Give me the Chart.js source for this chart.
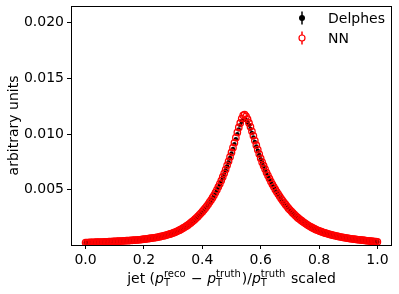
<!DOCTYPE html>
<html>
<head>
<meta charset="utf-8">
<script src="https://cdn.jsdelivr.net/npm/chart.js@4.4.1/dist/chart.umd.min.js"></script>
<style>
  html, body { margin: 0; padding: 0; background: #fff; }
  #wrap { width: 399px; height: 294px; }
</style>
</head>
<body>
<div id="wrap"><canvas id="respChart" width="399" height="294"></canvas></div>
<script>
// bin centres (scaled response)
const binX = [
    0.000, 0.005, 0.010, 0.015, 0.020, 0.025, 0.030, 0.035, 0.040, 0.045, 0.050, 0.055, 0.060, 0.065, 0.070, 0.075, 0.080, 0.085, 0.090, 0.095,
    0.100, 0.105, 0.110, 0.115, 0.120, 0.125, 0.130, 0.135, 0.140, 0.145, 0.150, 0.155, 0.160, 0.165, 0.170, 0.175, 0.180, 0.185, 0.190, 0.195,
    0.200, 0.205, 0.210, 0.215, 0.220, 0.225, 0.230, 0.235, 0.240, 0.245, 0.250, 0.255, 0.260, 0.265, 0.270, 0.275, 0.280, 0.285, 0.290, 0.295,
    0.300, 0.305, 0.310, 0.315, 0.320, 0.325, 0.330, 0.335, 0.340, 0.345, 0.350, 0.355, 0.360, 0.365, 0.370, 0.375, 0.380, 0.385, 0.390, 0.395,
    0.400, 0.405, 0.410, 0.415, 0.420, 0.425, 0.430, 0.435, 0.440, 0.445, 0.450, 0.455, 0.460, 0.465, 0.470, 0.475, 0.480, 0.485, 0.490, 0.495,
    0.500, 0.505, 0.510, 0.515, 0.520, 0.525, 0.530, 0.535, 0.540, 0.545, 0.550, 0.555, 0.560, 0.565, 0.570, 0.575, 0.580, 0.585, 0.590, 0.595,
    0.600, 0.605, 0.610, 0.615, 0.620, 0.625, 0.630, 0.635, 0.640, 0.645, 0.650, 0.655, 0.660, 0.665, 0.670, 0.675, 0.680, 0.685, 0.690, 0.695,
    0.700, 0.705, 0.710, 0.715, 0.720, 0.725, 0.730, 0.735, 0.740, 0.745, 0.750, 0.755, 0.760, 0.765, 0.770, 0.775, 0.780, 0.785, 0.790, 0.795,
    0.800, 0.805, 0.810, 0.815, 0.820, 0.825, 0.830, 0.835, 0.840, 0.845, 0.850, 0.855, 0.860, 0.865, 0.870, 0.875, 0.880, 0.885, 0.890, 0.895,
    0.900, 0.905, 0.910, 0.915, 0.920, 0.925, 0.930, 0.935, 0.940, 0.945, 0.950, 0.955, 0.960, 0.965, 0.970, 0.975, 0.980, 0.985, 0.990, 0.995,
    1.000
];

const delphesVals = [
    0.00025, 0.00025, 0.00026, 0.00026, 0.00027, 0.00027, 0.00028, 0.00028, 0.00029, 0.00029, 0.00030, 0.00030, 0.00031, 0.00031, 0.00032, 0.00033, 0.00034, 0.00034, 0.00035, 0.00035,
    0.00036, 0.00037, 0.00037, 0.00038, 0.00039, 0.00039, 0.00040, 0.00041, 0.00042, 0.00042, 0.00043, 0.00044, 0.00045, 0.00046, 0.00047, 0.00048, 0.00049, 0.00050, 0.00052, 0.00053,
    0.00055, 0.00056, 0.00058, 0.00060, 0.00062, 0.00064, 0.00066, 0.00068, 0.00070, 0.00072, 0.00075, 0.00078, 0.00081, 0.00084, 0.00087, 0.00090, 0.00094, 0.00098, 0.00102, 0.00106,
    0.00111, 0.00116, 0.00122, 0.00128, 0.00134, 0.00141, 0.00148, 0.00155, 0.00163, 0.00171, 0.00180, 0.00190, 0.00200, 0.00211, 0.00222, 0.00234, 0.00246, 0.00259, 0.00272, 0.00286,
    0.00300, 0.00316, 0.00332, 0.00349, 0.00366, 0.00385, 0.00404, 0.00425, 0.00446, 0.00470, 0.00494, 0.00520, 0.00548, 0.00577, 0.00608, 0.00641, 0.00675, 0.00711, 0.00748, 0.00786,
    0.00825, 0.00867, 0.00910, 0.00955, 0.01000, 0.01042, 0.01080, 0.01110, 0.01130, 0.01135, 0.01125, 0.01105, 0.01080, 0.01047, 0.01010, 0.00970, 0.00930, 0.00890, 0.00850, 0.00812,
    0.00775, 0.00742, 0.00710, 0.00680, 0.00650, 0.00622, 0.00595, 0.00570, 0.00545, 0.00522, 0.00500, 0.00479, 0.00458, 0.00438, 0.00418, 0.00400, 0.00382, 0.00365, 0.00349, 0.00333,
    0.00318, 0.00304, 0.00290, 0.00277, 0.00264, 0.00252, 0.00241, 0.00230, 0.00220, 0.00210, 0.00201, 0.00192, 0.00184, 0.00176, 0.00168, 0.00161, 0.00154, 0.00147, 0.00141, 0.00135,
    0.00130, 0.00125, 0.00120, 0.00115, 0.00111, 0.00107, 0.00103, 0.00099, 0.00096, 0.00092, 0.00089, 0.00086, 0.00083, 0.00080, 0.00077, 0.00075, 0.00072, 0.00070, 0.00067, 0.00065,
    0.00063, 0.00061, 0.00059, 0.00057, 0.00055, 0.00054, 0.00052, 0.00050, 0.00049, 0.00047, 0.00046, 0.00044, 0.00043, 0.00041, 0.00040, 0.00038, 0.00037, 0.00036, 0.00034, 0.00033,
    0.00031
];

const nnVals = [
    0.00026, 0.00026, 0.00026, 0.00027, 0.00027, 0.00028, 0.00028, 0.00029, 0.00029, 0.00030, 0.00030, 0.00031, 0.00031, 0.00032, 0.00032, 0.00033, 0.00034, 0.00035, 0.00035, 0.00036,
    0.00037, 0.00037, 0.00038, 0.00039, 0.00039, 0.00040, 0.00041, 0.00042, 0.00043, 0.00043, 0.00044, 0.00045, 0.00046, 0.00047, 0.00048, 0.00049, 0.00050, 0.00051, 0.00053, 0.00054,
    0.00056, 0.00057, 0.00059, 0.00061, 0.00063, 0.00065, 0.00067, 0.00069, 0.00071, 0.00073, 0.00076, 0.00079, 0.00082, 0.00085, 0.00088, 0.00091, 0.00095, 0.00099, 0.00103, 0.00107,
    0.00112, 0.00117, 0.00123, 0.00129, 0.00135, 0.00142, 0.00149, 0.00157, 0.00165, 0.00173, 0.00182, 0.00192, 0.00202, 0.00213, 0.00224, 0.00236, 0.00248, 0.00261, 0.00275, 0.00289,
    0.00303, 0.00319, 0.00335, 0.00352, 0.00370, 0.00389, 0.00408, 0.00429, 0.00450, 0.00475, 0.00500, 0.00526, 0.00553, 0.00583, 0.00615, 0.00648, 0.00682, 0.00719, 0.00756, 0.00795,
    0.00835, 0.00878, 0.00922, 0.00968, 0.01015, 0.01060, 0.01100, 0.01140, 0.01168, 0.01175, 0.01160, 0.01135, 0.01100, 0.01065, 0.01025, 0.00985, 0.00942, 0.00900, 0.00860, 0.00820,
    0.00782, 0.00748, 0.00716, 0.00686, 0.00655, 0.00627, 0.00600, 0.00574, 0.00549, 0.00526, 0.00503, 0.00482, 0.00461, 0.00441, 0.00421, 0.00403, 0.00385, 0.00368, 0.00351, 0.00335,
    0.00320, 0.00306, 0.00292, 0.00279, 0.00266, 0.00254, 0.00243, 0.00232, 0.00222, 0.00212, 0.00203, 0.00194, 0.00185, 0.00177, 0.00169, 0.00162, 0.00155, 0.00148, 0.00142, 0.00136,
    0.00131, 0.00126, 0.00121, 0.00116, 0.00112, 0.00108, 0.00104, 0.00100, 0.00097, 0.00093, 0.00090, 0.00087, 0.00084, 0.00081, 0.00078, 0.00076, 0.00073, 0.00071, 0.00068, 0.00066,
    0.00064, 0.00062, 0.00060, 0.00058, 0.00056, 0.00055, 0.00053, 0.00051, 0.00050, 0.00048, 0.00047, 0.00045, 0.00044, 0.00042, 0.00041, 0.00039, 0.00038, 0.00037, 0.00035, 0.00034,
    0.00032
];

const xTicks = [0.0, 0.2, 0.4, 0.6, 0.8, 1.0];
const yTicks = [0.005, 0.010, 0.015, 0.020];

const FONT = '"DejaVu Sans", sans-serif';

function toPoints(ys) {
    return binX.map((x, i) => ({ x: x, y: ys[i] }));
}

// frame, axis titles and legend drawn like matplotlib
const decorPlugin = {
    id: 'decor',
    afterDraw(chart) {
        const c = chart.ctx;
        const a = chart.chartArea;
        c.save();

        // box
        c.strokeStyle = '#000';
        c.lineWidth = 1;
        c.strokeRect(a.left + 0.5, a.top + 0.5, a.right - a.left - 1, a.bottom - a.top);

        // y title
        c.fillStyle = '#000';
        c.font = '14px ' + FONT;
        c.textAlign = 'center';
        c.textBaseline = 'middle';
        c.translate(14, (a.top + a.bottom) / 2);
        c.rotate(-Math.PI / 2);
        c.fillText('arbitrary units', 0, 0);
        c.setTransform(1, 0, 0, 1, 0, 0);

        // x title with sub/superscripts
        const parts = [
            { t: 'jet (', k: 'n' },
            { t: 'p', k: 'i' },
            { sub: 'T', sup: 'reco' },
            { t: ' \u2212 ', k: 'n' },
            { t: 'p', k: 'i' },
            { sub: 'T', sup: 'truth' },
            { t: ')/', k: 'n' },
            { t: 'p', k: 'i' },
            { sub: 'T', sup: 'truth' },
            { t: ' scaled', k: 'n' }
        ];
        const big = '14px ' + FONT;
        const bigI = 'oblique 14px ' + FONT;
        const small = '10px ' + FONT;
        let total = 0;
        parts.forEach(p => {
            if (p.sub) {
                c.font = small;
                p.w = Math.max(c.measureText(p.sub).width, c.measureText(p.sup).width) + 1;
            } else {
                c.font = p.k === 'i' ? bigI : big;
                p.w = c.measureText(p.t).width;
            }
            total += p.w;
        });
        let x = (a.left + a.right) / 2 - total / 2;
        const base = 283;
        c.textAlign = 'left';
        c.textBaseline = 'alphabetic';
        parts.forEach(p => {
            if (p.sub) {
                c.font = small;
                c.fillText(p.sup, x, base - 6);
                c.fillText(p.sub, x, base + 3);
            } else {
                c.font = p.k === 'i' ? bigI : big;
                c.fillText(p.t, x, base);
            }
            x += p.w;
        });

        // legend
        const items = [
            { label: 'Delphes', color: '#000', fill: true, y: 18 },
            { label: 'NN', color: '#ff0000', fill: false, y: 38 }
        ];
        items.forEach(it => {
            const mx = 302;
            c.strokeStyle = it.color;
            c.lineWidth = 1.5;
            c.beginPath();
            c.moveTo(mx, it.y - 6.5);
            c.lineTo(mx, it.y + 6.5);
            c.stroke();
            c.beginPath();
            c.arc(mx, it.y, 3, 0, Math.PI * 2);
            if (it.fill) {
                c.fillStyle = it.color;
                c.fill();
            } else {
                c.fillStyle = '#fff';
                c.fill();
                c.lineWidth = 1.2;
                c.stroke();
            }
            c.fillStyle = '#000';
            c.font = '14px ' + FONT;
            c.textAlign = 'left';
            c.textBaseline = 'middle';
            c.fillText(it.label, 328, it.y + 1);
        });

        c.restore();
    }
};

const ctx = document.getElementById('respChart');

new Chart(ctx, {
    type: 'scatter',
    data: {
        datasets: [
            {
                label: 'NN',
                data: toPoints(nnVals),
                pointStyle: 'circle',
                pointRadius: 3.2,
                pointBorderWidth: 1.3,
                borderColor: '#ff0000',
                backgroundColor: 'rgba(0,0,0,0)',
                order: 0
            },
            {
                label: 'Delphes',
                data: toPoints(delphesVals),
                pointStyle: 'circle',
                pointRadius: 2.2,
                pointBorderWidth: 0,
                borderColor: '#000',
                backgroundColor: '#000',
                order: 1
            }
        ]
    },
    options: {
        responsive: false,
        animation: false,
        layout: {
            padding: { left: 0, top: 6, right: 7, bottom: 0 }
        },
        plugins: {
            legend: { display: false },
            tooltip: { enabled: false }
        },
        scales: {
            x: {
                type: 'linear',
                min: -0.05,
                max: 1.05,
                afterBuildTicks: function (scale) {
                    scale.ticks = xTicks.map(v => ({ value: v }));
                },
                afterFit: function (scale) {
                    scale.height = 49;
                    scale.paddingLeft = 0;
                    scale.paddingRight = 0;
                },
                border: { display: false },
                grid: {
                    drawOnChartArea: false,
                    tickLength: 4,
                    color: '#000'
                },
                ticks: {
                    color: '#000',
                    padding: 3,
                    maxRotation: 0,
                    font: { family: FONT, size: 14 },
                    callback: function (value) {
                        return value.toFixed(1);
                    }
                }
            },
            y: {
                type: 'linear',
                min: 0.00004,
                max: 0.0215,
                afterBuildTicks: function (scale) {
                    scale.ticks = yTicks.map(v => ({ value: v }));
                },
                afterFit: function (scale) {
                    scale.width = 71;
                    scale.paddingTop = 0;
                    scale.paddingBottom = 0;
                },
                border: { display: false },
                grid: {
                    drawOnChartArea: false,
                    tickLength: 4,
                    color: '#000'
                },
                ticks: {
                    color: '#000',
                    padding: 3,
                    font: { family: FONT, size: 14 },
                    callback: function (value) {
                        return value.toFixed(3);
                    }
                }
            }
        }
    },
    plugins: [decorPlugin]
});
</script>
</body>
</html>
